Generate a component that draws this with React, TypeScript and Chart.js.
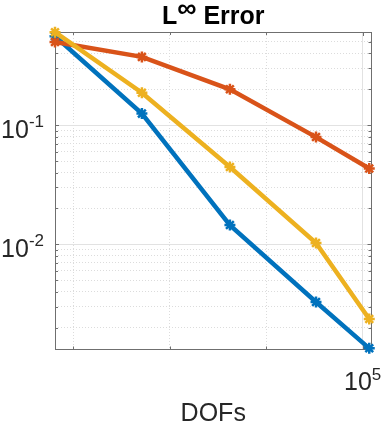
import React, { useEffect, useRef } from "react";
import { Chart, registerables } from "chart.js";

Chart.register(...registerables);

// ---- data ----
const dofs = [15960, 26800, 45300, 75700, 104000];
const errBlue = [0.557, 0.125, 0.0145, 0.00328, 0.00134];
const errOrange = [0.499, 0.374, 0.2, 0.0794, 0.0433];
const errYellow = [0.603, 0.187, 0.0445, 0.01025, 0.00236];
const seriesNames = ["Series 1", "Series 2", "Series 3"];
const seriesColors = ["#0072BD", "#D95319", "#EDB120"];

const xMin = 15960;
const xMax = 105400;
const yMin = 0.00131;
const yMax = 0.605;

const xGridValues = [Math.pow(10, 4.25), Math.pow(10, 4.5), Math.pow(10, 4.75), 1e5];
const xMajorValues = [1e5];
const yGridValues = [
  0.002, 0.003, 0.004, 0.005, 0.006, 0.007, 0.008, 0.009,
  0.01,
  0.02, 0.03, 0.04, 0.05, 0.06, 0.07, 0.08, 0.09,
  0.1,
  0.2, 0.3, 0.4, 0.5, 0.6,
];
const yMajorValues = [0.01, 0.1];
const yTickLabels = [
  { value: 0.1, base: "10", exp: "-1" },
  { value: 0.01, base: "10", exp: "-2" },
];
const xTickLabels = [{ value: 1e5, base: "10", exp: "5" }];
const titleMain = "L";
const titleSup = "\u221E";
const titleRest = " Error";
const xAxisTitle = "DOFs";

const FONT = "'Liberation Sans', Arial, Helvetica, sans-serif";
const AXIS_COLOR = "#6f6f6f";

const isMajor = (v: number, majors: number[]) =>
  majors.some((m) => Math.abs(m - v) / m < 1e-6);

const overlayPlugin = {
  id: "matlabOverlay",
  beforeDatasetsDraw(chart: any) {
    const { ctx, chartArea: a, scales } = chart;
    ctx.save();
    ctx.strokeStyle = AXIS_COLOR;
    ctx.lineWidth = 1;
    // box
    ctx.strokeRect(Math.round(a.left) + 0.5, Math.round(a.top) + 0.5,
      Math.round(a.right - a.left) - 1, Math.round(a.bottom - a.top) - 1);
    // inward ticks
    ctx.beginPath();
    for (const v of yGridValues) {
      const y = Math.round(scales.y.getPixelForValue(v)) + 0.5;
      const len = isMajor(v, yMajorValues) ? 4 : 3;
      ctx.moveTo(a.left, y);
      ctx.lineTo(a.left + len, y);
      ctx.moveTo(a.right, y);
      ctx.lineTo(a.right - len, y);
    }
    for (const v of xGridValues) {
      const x = Math.round(scales.x.getPixelForValue(v)) + 0.5;
      const len = isMajor(v, xMajorValues) ? 4 : 3;
      ctx.moveTo(x, a.bottom);
      ctx.lineTo(x, a.bottom - len);
      ctx.moveTo(x, a.top);
      ctx.lineTo(x, a.top + len);
    }
    ctx.stroke();
    ctx.restore();
  },
  afterDraw(chart: any) {
    const { ctx, chartArea: a, scales } = chart;
    ctx.save();
    ctx.fillStyle = "#262626";
    ctx.textBaseline = "alphabetic";
    ctx.textAlign = "left";
    const baseFont = `25px ${FONT}`;
    const expFont = `17px ${FONT}`;

    // y tick labels
    for (const t of yTickLabels) {
      const py = scales.y.getPixelForValue(t.value);
      ctx.font = expFont;
      const we = ctx.measureText(t.exp).width;
      ctx.font = baseFont;
      const wb = ctx.measureText(t.base).width;
      const right = 44;
      ctx.fillText(t.base, right - we - wb, py + 13);
      ctx.font = expFont;
      ctx.fillText(t.exp, right - we, py + 1.5);
    }
    // x tick labels
    for (const t of xTickLabels) {
      const px = scales.x.getPixelForValue(t.value);
      ctx.font = expFont;
      const we = ctx.measureText(t.exp).width;
      ctx.font = baseFont;
      const wb = ctx.measureText(t.base).width;
      const start = px - (wb + we) / 2;
      ctx.fillText(t.base, start, a.bottom + 40);
      ctx.font = expFont;
      ctx.fillText(t.exp, start + wb, a.bottom + 30.5);
    }
    // x axis title
    ctx.font = baseFont;
    ctx.textAlign = "center";
    ctx.fillText(xAxisTitle, (a.left + a.right) / 2, a.bottom + 71.5);

    // title
    ctx.fillStyle = "#000000";
    ctx.textAlign = "left";
    const tMainFont = `bold 25px ${FONT}`;
    const tSupFont = `bold 27px ${FONT}`;
    ctx.font = tMainFont;
    const w1 = ctx.measureText(titleMain).width;
    const w3 = ctx.measureText(titleRest).width;
    ctx.font = tSupFont;
    const w2 = ctx.measureText(titleSup).width;
    const cx = (a.left + a.right) / 2;
    let x = cx - (w1 + w2 + w3) / 2;
    ctx.font = tMainFont;
    ctx.fillText(titleMain, x, 24);
    x += w1;
    ctx.font = tSupFont;
    ctx.fillText(titleSup, x, 17);
    x += w2;
    ctx.font = tMainFont;
    ctx.fillText(titleRest, x, 24);
    ctx.restore();
  },
};

export default function App() {
  const canvasRef = useRef<HTMLCanvasElement | null>(null);

  useEffect(() => {
    const canvas = canvasRef.current;
    if (!canvas) return;
    const series = [errBlue, errOrange, errYellow];
    const datasets = series.map((vals, i) => ({
      label: seriesNames[i],
      data: dofs.map((d, j) => ({ x: d, y: vals[j] })),
      borderColor: seriesColors[i],
      backgroundColor: seriesColors[i],
      pointBackgroundColor: seriesColors[i],
      pointBorderColor: seriesColors[i],
      borderWidth: 4.5,
      pointStyle: "star",
      pointRadius: 5.5,
      pointBorderWidth: 2.5,
      tension: 0,
      clip: false as any,
      order: 3 - i,
    }));

    const gridOpts = (majors: number[]) => ({
      drawTicks: false,
      color: (c: any) =>
        c.tick && isMajor(c.tick.value, majors) ? "#e2e2e2" : "#dcdcdc",
      lineWidth: 1,
    });
    const borderOpts = (majors: number[]) => ({
      display: false,
      dash: (c: any) =>
        c.tick && !isMajor(c.tick.value, majors) ? [1, 2] : [],
    });

    const chart = new Chart(canvas, {
      type: "line",
      data: { datasets },
      options: {
        animation: false,
        responsive: false,
        devicePixelRatio: 1,
        layout: {
          autoPadding: false,
          padding: { left: 55, right: 11.5, top: 32, bottom: 73.5 },
        },
        plugins: {
          legend: { display: false },
          title: { display: false },
          tooltip: { enabled: false },
        },
        scales: {
          x: {
            type: "logarithmic",
            min: xMin,
            max: xMax,
            afterBuildTicks: (scale: any) => {
              scale.ticks = xGridValues.map((v) => ({ value: v }));
            },
            ticks: { display: false },
            grid: gridOpts(xMajorValues) as any,
            border: borderOpts(xMajorValues) as any,
          },
          y: {
            type: "logarithmic",
            min: yMin,
            max: yMax,
            afterBuildTicks: (scale: any) => {
              scale.ticks = yGridValues.map((v) => ({ value: v }));
            },
            ticks: { display: false },
            grid: gridOpts(yMajorValues) as any,
            border: borderOpts(yMajorValues) as any,
          },
        },
      },
      plugins: [overlayPlugin],
    } as any);

    return () => chart.destroy();
  }, []);

  return (
    <div
      style={{
        position: "fixed",
        left: 0,
        top: 0,
        width: 383,
        height: 423,
        background: "#ffffff",
      }}
    >
      <canvas ref={canvasRef} width={383} height={423} style={{ display: "block" }} />
    </div>
  );
}
